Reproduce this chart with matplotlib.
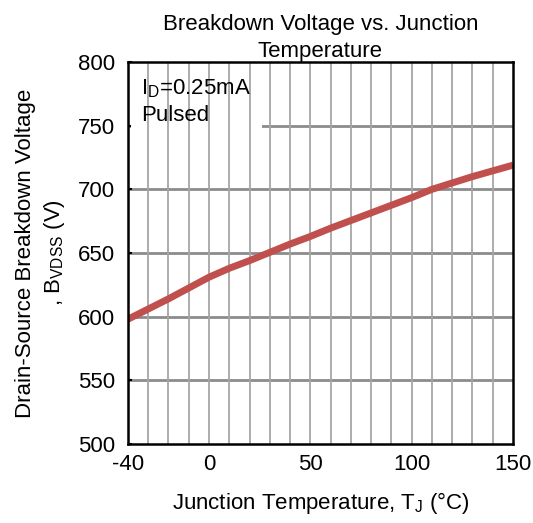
import matplotlib
matplotlib.use("Agg")
import matplotlib.pyplot as plt
from matplotlib.patches import Rectangle
import numpy as np

plt.rcParams["font.family"] = ["Liberation Sans", "DejaVu Sans"]
plt.rcParams["mathtext.fontset"] = "custom"
plt.rcParams["mathtext.rm"] = "Liberation Sans"
plt.rcParams["mathtext.it"] = "Liberation Sans"
plt.rcParams["axes.unicode_minus"] = False

# data
temp_c = [-40, -30, -20, -10, 0, 10, 20, 30, 40, 50,
          60, 70, 80, 90, 100, 110, 120, 130, 140, 150]
bvdss_v = [598, 606, 614, 622.5, 631, 638, 644, 650.5, 657, 663,
           669.5, 675.5, 681.5, 687.5, 693.5, 700, 705, 710, 714.5, 719]

x_ticks = [-40, 0, 50, 100, 150]
x_grid = np.arange(-30, 150, 10)
y_ticks = [500, 550, 600, 650, 700, 750, 800]

FS = 16

fig = plt.figure(figsize=(5.33, 5.23), dpi=100)
ax = fig.add_axes([0.240, 0.151, 0.7225, 0.7305])

ax.set_xlim(-40, 150)
ax.set_ylim(500, 800)

# horizontal grid (under the label box)
for y in y_ticks[1:-1]:
    ax.axhline(y, color="#8c8c8c", lw=2.0, zorder=1)

# white box behind the annotation
ax.add_patch(Rectangle((0.008, 0.828), 0.34, 0.172, transform=ax.transAxes,
                       facecolor="white", edgecolor="none", zorder=2))

# vertical grid (over the box)
for x in x_grid:
    ax.axvline(x, color="#a6a6a6", lw=1.3, zorder=3)

ax.plot(temp_c, bvdss_v, color="#C0504D", lw=5, solid_capstyle="butt", zorder=5)

ax.text(0.035, 0.96, "I$_\\mathrm{D}$=0.25mA\nPulsed", transform=ax.transAxes,
        fontsize=FS, va="top", ha="left", linespacing=1.35, zorder=6)

ax.set_xticks(x_ticks)
ax.set_yticks(y_ticks)
ax.tick_params(axis="both", direction="in", length=3, width=1.5, labelsize=FS)
ax.tick_params(axis="x", pad=7, length=0)
ax.tick_params(axis="y", pad=9)

for sp in ax.spines.values():
    sp.set_linewidth(1.8)
    sp.set_color("black")
    sp.set_zorder(7)

ax.set_title("Breakdown Voltage vs. Junction\nTemperature", fontsize=FS,
             linespacing=1.4, pad=3)
ax.set_xlabel("Junction Temperature, T$_\\mathrm{J}$ (°C)", fontsize=FS, labelpad=11)
ax.set_ylabel("Drain-Source Breakdown Voltage\n, B$_\\mathrm{VDSS}$ (V)", fontsize=FS,
              labelpad=8, linespacing=1.35)

fig.savefig("out.png", dpi=100)
